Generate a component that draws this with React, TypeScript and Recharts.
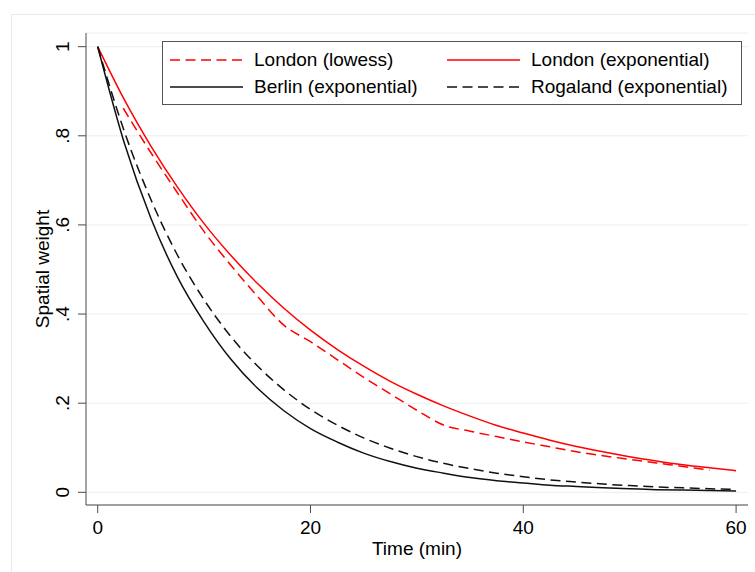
import React from 'react';
import { LineChart, Line, XAxis, YAxis, CartesianGrid, Legend, Label } from 'recharts';

const FONT = '"Liberation Sans", Arial, Helvetica, sans-serif';

// Time (min) sample points for the exponential curves
const minutes = [0, 2.5, 5, 7.5, 10, 12.5, 15, 17.5, 20, 22.5, 25, 27.5, 30, 32.5, 35, 37.5, 40, 42.5, 45, 47.5, 50, 52.5, 55, 57.5, 60];
const londonExp = [1.0, 0.881, 0.777, 0.685, 0.603, 0.532, 0.469, 0.413, 0.364, 0.321, 0.283, 0.249, 0.22, 0.194, 0.171, 0.15, 0.133, 0.117, 0.103, 0.091, 0.08, 0.0705, 0.062, 0.055, 0.0485];
const berlinExp = [1.0, 0.784, 0.615, 0.483, 0.382, 0.299, 0.234, 0.183, 0.143, 0.113, 0.088, 0.069, 0.054, 0.043, 0.033, 0.026, 0.021, 0.016, 0.013, 0.01, 0.008, 0.006, 0.005, 0.004, 0.003];
const rogalandExp = [1.0, 0.81, 0.657, 0.532, 0.432, 0.35, 0.284, 0.23, 0.186, 0.151, 0.122, 0.099, 0.08, 0.065, 0.053, 0.043, 0.035, 0.028, 0.023, 0.0185, 0.015, 0.012, 0.01, 0.008, 0.0065];

// London lowess smoother (own sample points)
const lowessMinutes = [2.4, 5, 7.5, 10, 12.5, 15, 17.5, 20, 22.5, 25, 27.5, 30, 32.5, 35, 37.5, 40, 42.5, 45, 47.5, 50, 52.5, 55, 57.5];
const londonLowess = [0.862, 0.762, 0.672, 0.585, 0.51, 0.44, 0.375, 0.338, 0.298, 0.258, 0.221, 0.184, 0.151, 0.137, 0.125, 0.113, 0.102, 0.091, 0.082, 0.074, 0.066, 0.058, 0.05];

const xTicks = [0, 20, 40, 60];
const yTicks = [0, 0.2, 0.4, 0.6, 0.8, 1];
const yTickLabels = ['0', '.2', '.4', '.6', '.8', '1'];

const toPoints = (xs: number[], ys: number[]) => xs.map((t, i) => ({ t, v: ys[i] }));

const series = [
  { name: 'London (lowess)', data: toPoints(lowessMinutes, londonLowess), color: '#ff0000', dash: '10 5.5' },
  { name: 'London (exponential)', data: toPoints(minutes, londonExp), color: '#ff0000', dash: undefined },
  { name: 'Berlin (exponential)', data: toPoints(minutes, berlinExp), color: '#111111', dash: undefined },
  { name: 'Rogaland (exponential)', data: toPoints(minutes, rogalandExp), color: '#111111', dash: '10 5.5' },
];

const YTick = (props: any) => {
  const { x, y, payload } = props;
  const idx = yTicks.indexOf(payload.value);
  const label = idx >= 0 ? yTickLabels[idx] : String(payload.value);
  return (
    <text
      x={x}
      y={y}
      transform={`rotate(-90 ${x} ${y})`}
      textAnchor="middle"
      fontSize={19}
      fontFamily={FONT}
      fill="#000"
    >
      {label}
    </text>
  );
};

const LegendBox = () => {
  const colX = [{ line: 7, text: 91 }, { line: 284, text: 368 }];
  const rowCenter = [18, 45];
  return (
    <div
      style={{
        position: 'relative',
        width: 580,
        height: 64,
        boxSizing: 'border-box',
        border: '1px solid #555',
        background: '#fff',
        fontFamily: FONT,
        fontSize: 19,
        color: '#000',
      }}
    >
      {series.map((s, i) => {
        const r = Math.floor(i / 2);
        const c = i % 2;
        return (
          <React.Fragment key={s.name}>
            <svg
              width={73}
              height={4}
              style={{ position: 'absolute', left: colX[c].line, top: rowCenter[r] - 2 }}
            >
              <line x1={0} y1={2} x2={73} y2={2} stroke={s.color} strokeWidth={1.5} strokeDasharray={s.dash} />
            </svg>
            <div
              style={{
                position: 'absolute',
                left: colX[c].text,
                top: rowCenter[r] - 9.8,
                lineHeight: '20px',
                whiteSpace: 'nowrap',
              }}
            >
              {s.name}
            </div>
          </React.Fragment>
        );
      })}
    </div>
  );
};

export default function App() {
  return (
    <div
      style={{
        position: 'absolute',
        left: 0,
        top: 0,
        width: 755,
        height: 572,
        overflow: 'hidden',
        background: '#fff',
        fontFamily: FONT,
      }}
    >
      <div
        style={{
          position: 'absolute',
          left: 11,
          top: 14,
          width: 770,
          height: 600,
          border: '1px solid #e4eaf0',
          boxSizing: 'border-box',
        }}
      />
      <div style={{ position: 'absolute', left: 0, top: 0 }}>
        <LineChart width={755} height={572} margin={{ top: 33, right: 7, bottom: 17, left: 26 }}>
          <CartesianGrid horizontal vertical={false} stroke="#e8eef4" strokeWidth={1} />
          <XAxis
            type="number"
            dataKey="t"
            domain={[-1.1, 61.12]}
            ticks={xTicks}
            allowDataOverflow
            height={50}
            tickSize={8}
            tickMargin={8}
            stroke="#4a4a4a"
            axisLine={{ stroke: '#4a4a4a' }}
            tickLine={{ stroke: '#4a4a4a' }}
            tick={{ fill: '#000', fontSize: 19, fontFamily: FONT }}
          >
            <Label
              value="Time (min)"
              position="insideBottom"
              offset={0}
              style={{ fill: '#000', fontSize: 19, fontFamily: FONT }}
            />
          </XAxis>
          <YAxis
            type="number"
            domain={[-0.0285, 1.0307]}
            ticks={yTicks}
            allowDataOverflow
            width={60}
            tickSize={8}
            tickMargin={9}
            axisLine={{ stroke: '#4a4a4a' }}
            tickLine={{ stroke: '#4a4a4a' }}
            tick={<YTick />}
          >
            <Label
              content={(p: any) => {
                const vb = p.viewBox || { x: 26, y: 33, width: 60, height: 472 };
                const cx = vb.x + 23;
                const cy = vb.y + vb.height / 2;
                return (
                  <text
                    x={cx}
                    y={cy}
                    transform={`rotate(-90 ${cx} ${cy})`}
                    textAnchor="middle"
                    fontSize={19}
                    fontFamily={FONT}
                    fill="#000"
                  >
                    Spatial weight
                  </text>
                );
              }}
            />
          </YAxis>
          {series.map((s) => (
            <Line
              key={s.name}
              name={s.name}
              data={s.data}
              dataKey="v"
              type="monotone"
              stroke={s.color}
              strokeWidth={1.5}
              strokeDasharray={s.dash}
              dot={false}
              activeDot={false}
              isAnimationActive={false}
            />
          ))}
          <Legend
            layout="horizontal"
            verticalAlign="middle"
            align="center"
            content={() => <LegendBox />}
            wrapperStyle={{ left: 162, top: 41, width: 580, height: 64, right: 'auto', bottom: 'auto' }}
          />
        </LineChart>
      </div>
    </div>
  );
}
